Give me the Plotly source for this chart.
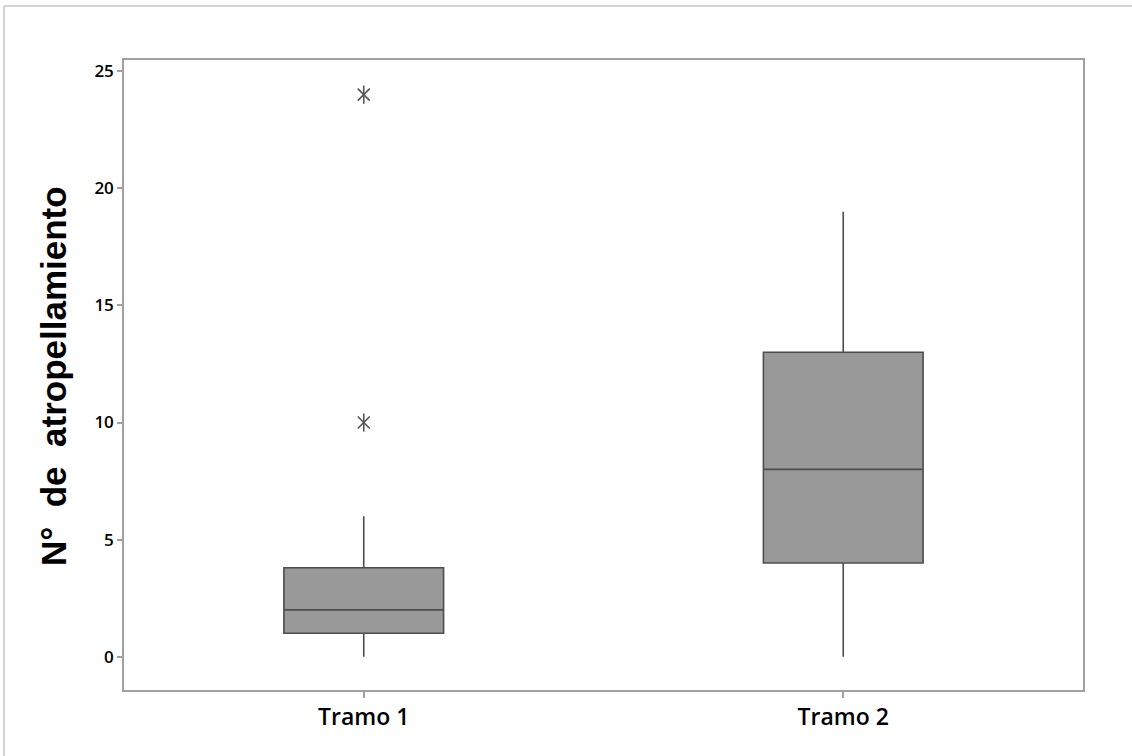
import plotly.graph_objects as go

categories = ["Tramo 1", "Tramo 2"]
q1 = [1, 4]
median = [2, 8]
q3 = [3.8, 13]
lower_whisker = [0, 0]
upper_whisker = [6, 19]
outlier_x = ["Tramo 1", "Tramo 1"]
outlier_y = [10, 24]
y_ticks = [0, 5, 10, 15, 20, 25]

fig = go.Figure()
fig.add_trace(go.Box(
    x=categories, q1=q1, median=median, q3=q3,
    lowerfence=lower_whisker, upperfence=upper_whisker,
    width=0.333, fillcolor="#999999",
    line=dict(color="#4d4d4d", width=1.6),
    whiskerwidth=0, boxpoints=False, showlegend=False, hoverinfo="skip",
))
for sym, sz in (("x-thin-open", 12), ("line-ns-open", 13)):
    fig.add_trace(go.Scatter(
        x=outlier_x, y=outlier_y, mode="markers",
        marker=dict(symbol=sym, size=sz, color="#555555",
                    line=dict(color="#555555", width=1.6)),
        showlegend=False,
    ))

axis_color = "#a0a0a0"
fig.update_layout(
    width=1132, height=756,
    margin=dict(l=124, r=49, t=60, b=66),
    paper_bgcolor="white", plot_bgcolor="white",
    xaxis=dict(
        type="category", categoryorder="array", categoryarray=categories,
        range=[-0.5, 1.5],
        showline=True, mirror=True, linecolor=axis_color, linewidth=1.5,
        ticks="outside", ticklen=6, tickcolor=axis_color, tickwidth=1.5,
        showgrid=False, zeroline=False,
        tickfont=dict(family="Open Sans", size=23, color="black", weight=600),
    ),
    yaxis=dict(
        range=[-1.42, 25.48], tickvals=y_ticks,
        showline=True, mirror=True, linecolor=axis_color, linewidth=1.5,
        ticks="outside", ticklen=5, tickcolor=axis_color, tickwidth=1.5,
        showgrid=False, zeroline=False,
        tickfont=dict(family="Open Sans", size=17, color="black", weight=600),
    ),
    annotations=[dict(
        text="N°  de  atropellamiento", textangle=-90,
        xref="paper", yref="paper", x=(53 - 124) / 959, y=(690 - 376) / 630,
        xanchor="center", yanchor="middle", showarrow=False,
        font=dict(family="Liberation Sans", size=35, color="black", weight="bold"),
    )],
    shapes=[
        dict(type="line", xref="paper", yref="paper",
             x0=(4 - 124) / 959, x1=(1132 - 124) / 959,
             y0=(690 - 6) / 630, y1=(690 - 6) / 630,
             line=dict(color="#d4d4d4", width=2)),
        dict(type="line", xref="paper", yref="paper",
             x0=(4 - 124) / 959, x1=(4 - 124) / 959,
             y0=(690 - 6) / 630, y1=(690 - 760) / 630,
             line=dict(color="#d4d4d4", width=2)),
    ],
)

fig.write_html("out.html", config={"displayModeBar": False},
               post_script="document.body.style.margin='0';")
